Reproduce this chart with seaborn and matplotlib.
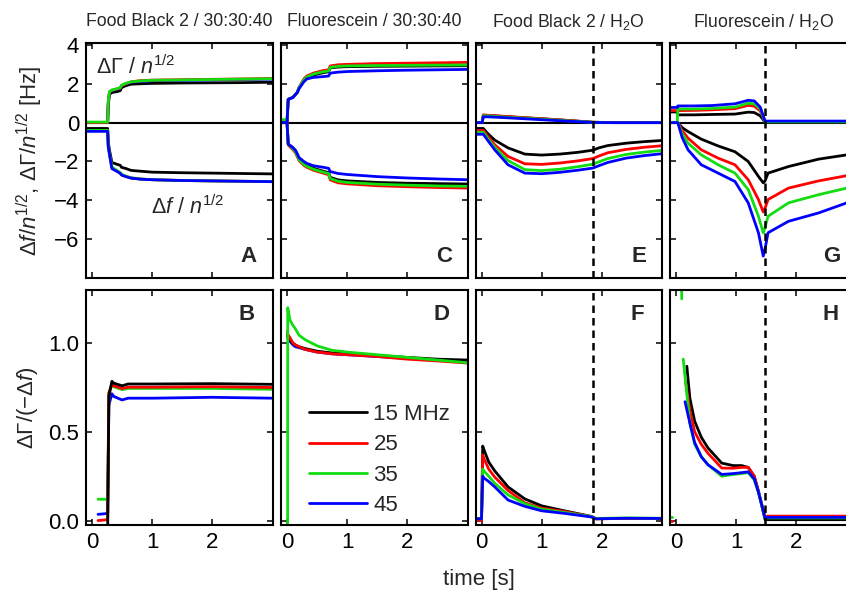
import matplotlib
matplotlib.use("Agg")
import matplotlib.pyplot as plt
import seaborn as sns
from matplotlib.lines import Line2D

# ---------------- data ----------------
freq_labels = ["15 MHz", "25", "35", "45"]
colors = ["#000000", "#ff0000", "#11dd11", "#0000ff"]

titles = ["Food Black 2 / 30:30:40", "Fluorescein / 30:30:40",
          "Food Black 2 / H$_2$O", "Fluorescein / H$_2$O"]
top_letters = ["A", "C", "E", "G"]
bot_letters = ["B", "D", "F", "H"]
top_yticks = [-6, -4, -2, 0, 2, 4]
bot_yticks = [0.0, 0.5, 1.0]
bot_yticklabels = ["0.0", "0.5", "1.0"]
xticks = [0, 1, 2]
rinse_E = 1.85
rinse_G = 1.48

# Panel A (Food Black 2 / 30:30:40)
A_t = [-0.1, 0.26, 0.27, 0.29, 0.33, 0.42, 0.47, 0.49, 0.56, 0.65, 0.8, 1.0, 1.5, 2.0, 2.5, 3.0]
A_gam_15 = [0.0, 0.0, 0.9, 1.45, 1.55, 1.6, 1.65, 1.8, 1.9, 1.98, 2.0, 2.02, 2.04, 2.05, 2.06, 2.08]
A_gam_25 = [0.0, 0.0, 1.05, 1.58, 1.66, 1.74, 1.78, 1.9, 2.0, 2.1, 2.16, 2.19, 2.21, 2.23, 2.25, 2.27]
A_gam_35 = [0.03, 0.03, 1.1, 1.6, 1.68, 1.75, 1.8, 1.92, 2.02, 2.1, 2.15, 2.18, 2.2, 2.22, 2.24, 2.26]
A_gam_45 = [0.0, 0.0, 1.05, 1.55, 1.64, 1.72, 1.77, 1.9, 2.0, 2.08, 2.13, 2.16, 2.18, 2.2, 2.22, 2.24]
A_df_15 = [-0.3, -0.3, -1.0, -1.4, -2.05, -2.15, -2.2, -2.3, -2.36, -2.46, -2.5, -2.55, -2.58, -2.6, -2.62, -2.64]
A_df_25 = [-0.4, -0.4, -1.2, -1.6, -2.3, -2.5, -2.6, -2.68, -2.76, -2.85, -2.9, -2.94, -2.98, -3.0, -3.02, -3.04]
A_df_35 = [-0.4, -0.4, -1.2, -1.6, -2.28, -2.48, -2.58, -2.66, -2.75, -2.84, -2.9, -2.94, -2.98, -3.0, -3.02, -3.03]
A_df_45 = [-0.45, -0.45, -1.25, -1.63, -2.37, -2.52, -2.62, -2.7, -2.78, -2.86, -2.91, -2.94, -2.98, -3.0, -3.02, -3.04]

# Panel B
B_t = [0.1, 0.26, 0.28, 0.33, 0.36, 0.5, 0.6, 1.0, 2.0, 3.0]
B_15 = [-0.06, -0.06, 0.7, 0.785, 0.775, 0.76, 0.77, 0.77, 0.772, 0.768]
B_25 = [0.0, 0.005, 0.72, 0.765, 0.76, 0.745, 0.752, 0.752, 0.755, 0.75]
B_35 = [0.12, 0.12, 0.72, 0.765, 0.755, 0.738, 0.745, 0.745, 0.745, 0.74]
B_45 = [0.035, 0.04, 0.65, 0.715, 0.70, 0.68, 0.69, 0.69, 0.695, 0.69]

# Panel C (Fluorescein / 30:30:40)
C_t = [-0.1, 0.0, 0.02, 0.1, 0.14, 0.17, 0.2, 0.28, 0.33, 0.44, 0.6, 0.69, 0.72, 0.85, 1.0, 1.5, 2.0, 2.5, 3.0]
C_gam_15 = [0.0, 0.0, 1.2, 1.3, 1.45, 1.55, 1.8, 2.2, 2.3, 2.45, 2.57, 2.62, 2.82, 2.86, 2.88, 2.9, 2.91, 2.92, 2.93]
C_gam_25 = [0.0, 0.0, 1.2, 1.3, 1.45, 1.55, 1.8, 2.25, 2.4, 2.55, 2.68, 2.72, 2.92, 2.98, 3.0, 3.04, 3.06, 3.08, 3.1]
C_gam_35 = [0.15, 0.15, 1.2, 1.3, 1.45, 1.55, 1.8, 2.2, 2.35, 2.5, 2.62, 2.66, 2.85, 2.9, 2.92, 2.94, 2.95, 2.96, 2.97]
C_gam_45 = [0.0, 0.0, 1.2, 1.3, 1.45, 1.55, 1.75, 2.1, 2.25, 2.33, 2.37, 2.4, 2.55, 2.6, 2.63, 2.67, 2.7, 2.72, 2.74]
C_df_15 = [0.0, 0.0, -1.1, -1.3, -1.45, -1.65, -1.85, -2.1, -2.2, -2.35, -2.5, -2.57, -2.82, -2.95, -3.0, -3.08, -3.12, -3.14, -3.16]
C_df_25 = [0.0, 0.0, -1.15, -1.4, -1.55, -1.75, -1.95, -2.2, -2.3, -2.45, -2.6, -2.68, -2.95, -3.1, -3.15, -3.25, -3.3, -3.34, -3.37]
C_df_35 = [0.0, 0.0, -1.1, -1.35, -1.5, -1.7, -1.9, -2.15, -2.25, -2.4, -2.55, -2.62, -2.88, -3.02, -3.08, -3.17, -3.22, -3.26, -3.28]
C_df_45 = [0.0, 0.0, -1.1, -1.3, -1.42, -1.6, -1.8, -2.0, -2.1, -2.22, -2.3, -2.35, -2.52, -2.62, -2.67, -2.78, -2.85, -2.9, -2.94]

# Panel D
D_t = [0.01, 0.012, 0.05, 0.1, 0.14, 0.2, 0.3, 0.5, 0.75, 1.0, 1.5, 2.0, 2.5, 3.0]
D_15 = [1.05, 1.04, 1.02, 1.0, 0.99, 0.98, 0.97, 0.955, 0.945, 0.94, 0.93, 0.92, 0.91, 0.905]
D_25 = [1.07, 1.05, 1.03, 1.0, 0.99, 0.98, 0.965, 0.95, 0.94, 0.935, 0.925, 0.91, 0.9, 0.888]
D_35 = [-0.1, 1.2, 1.13, 1.1, 1.08, 1.045, 1.02, 0.985, 0.96, 0.95, 0.935, 0.92, 0.905, 0.89]
D_45 = [1.04, 1.03, 1.01, 0.99, 0.98, 0.975, 0.965, 0.95, 0.94, 0.935, 0.925, 0.915, 0.905, 0.9]

# Panel E (Food Black 2 / H2O)
E_tg = [-0.1, 0.01, 0.03, 0.1, 0.3, 0.6, 1.0, 1.4, 1.85, 2.2, 3.0]
E_gam_15 = [0.0, 0.0, 0.38, 0.37, 0.33, 0.27, 0.2, 0.12, 0.02, 0.0, 0.0]
E_gam_25 = [0.0, 0.0, 0.4, 0.38, 0.34, 0.28, 0.2, 0.12, 0.02, 0.0, 0.0]
E_gam_35 = [0.0, 0.0, 0.36, 0.35, 0.3, 0.25, 0.18, 0.1, 0.02, 0.0, 0.0]
E_gam_45 = [0.0, 0.0, 0.3, 0.3, 0.27, 0.22, 0.15, 0.08, 0.01, 0.0, 0.0]
E_tf = [-0.1, 0.03, 0.1, 0.22, 0.44, 0.72, 1.0, 1.3, 1.6, 1.85, 1.95, 2.1, 2.4, 2.7, 3.0]
E_df_15 = [-0.3, -0.3, -0.55, -0.9, -1.3, -1.62, -1.67, -1.62, -1.53, -1.42, -1.3, -1.18, -1.06, -0.98, -0.92]
E_df_25 = [-0.4, -0.4, -0.7, -1.14, -1.74, -2.12, -2.15, -2.08, -1.97, -1.85, -1.72, -1.55, -1.38, -1.27, -1.19]
E_df_35 = [-0.5, -0.5, -0.8, -1.27, -1.95, -2.42, -2.47, -2.4, -2.27, -2.14, -2.02, -1.85, -1.64, -1.52, -1.43]
E_df_45 = [-0.6, -0.6, -0.9, -1.4, -2.17, -2.6, -2.63, -2.56, -2.45, -2.34, -2.22, -2.05, -1.83, -1.7, -1.6]

# Panel F
F_t = [-0.08, 0.0, 0.02, 0.04, 0.12, 0.22, 0.44, 0.72, 1.0, 1.39, 1.83, 1.9, 2.4, 3.0]
F_15 = [0.01, 0.01, 0.42, 0.4, 0.33, 0.28, 0.19, 0.122, 0.083, 0.054, 0.023, 0.01, 0.012, 0.012]
F_25 = [0.0, 0.0, 0.37, 0.35, 0.29, 0.245, 0.17, 0.10, 0.07, 0.05, 0.022, 0.01, 0.012, 0.012]
F_35 = [0.01, 0.01, 0.29, 0.28, 0.25, 0.21, 0.145, 0.095, 0.064, 0.045, 0.022, 0.012, 0.015, 0.013]
F_45 = [0.01, 0.01, 0.25, 0.24, 0.22, 0.19, 0.116, 0.08, 0.055, 0.04, 0.02, 0.01, 0.013, 0.012]

# Panel G (Fluorescein / H2O)
G_tg = [-0.1, 0.02, 0.03, 0.3, 0.6, 0.98, 1.2, 1.3, 1.4, 1.48, 1.5, 2.0, 3.0]
G_gam_15 = [0.55, 0.55, 0.4, 0.4, 0.42, 0.44, 0.54, 0.52, 0.35, 0.03, 0.03, 0.03, 0.03]
G_gam_25 = [0.62, 0.62, 0.62, 0.63, 0.66, 0.72, 0.89, 0.85, 0.6, 0.05, 0.05, 0.05, 0.05]
G_gam_35 = [0.0, 0.0, 0.7, 0.7, 0.73, 0.8, 1.0, 0.97, 0.7, 0.04, 0.04, 0.04, 0.04]
G_gam_45 = [0.78, 0.78, 0.86, 0.86, 0.88, 0.97, 1.15, 1.12, 0.8, 0.08, 0.08, 0.08, 0.08]
G_tf = [-0.1, 0.03, 0.1, 0.2, 0.42, 0.7, 0.98, 1.2, 1.37, 1.45, 1.48, 1.53, 1.87, 2.37, 2.84, 3.0]
G_df_15 = [0.0, 0.0, -0.25, -0.46, -0.85, -1.2, -1.5, -2.0, -2.77, -3.1, -3.0, -2.6, -2.26, -1.88, -1.66, -1.6]
G_df_25 = [0.0, 0.0, -0.4, -0.8, -1.4, -1.83, -2.17, -2.94, -3.96, -4.6, -4.4, -3.96, -3.37, -3.0, -2.73, -2.66]
G_df_35 = [0.0, 0.0, -0.55, -1.06, -1.66, -2.17, -2.6, -3.45, -4.82, -5.67, -5.4, -4.82, -4.13, -3.71, -3.37, -3.3]
G_df_45 = [0.0, 0.0, -0.75, -1.4, -2.17, -2.6, -3.03, -4.13, -5.67, -6.87, -6.5, -5.67, -5.08, -4.65, -4.13, -4.0]

# Panel H
H_t_common = [0.23, 0.31, 0.42, 0.53, 0.76, 0.95, 1.09, 1.2, 1.3, 1.37, 1.48, 1.52, 2.0, 2.5, 3.0]
H_t0 = [0.18, 0.16, 0.12, 0.15]
H_15 = [0.87, 0.69, 0.56, 0.47, 0.41, 0.324, 0.31, 0.31, 0.30, 0.25, 0.165, 0.005, 0.005, 0.005, 0.005, 0.005]
H_25 = [0.78, 0.62, 0.50, 0.43, 0.38, 0.296, 0.295, 0.30, 0.30, 0.25, 0.165, 0.02, 0.025, 0.025, 0.025, 0.025]
H_35 = [0.91, 0.55, 0.43, 0.36, 0.315, 0.25, 0.26, 0.265, 0.27, 0.23, 0.16, 0.015, 0.015, 0.015, 0.015, 0.015]
H_45 = [0.67, 0.55, 0.44, 0.36, 0.315, 0.26, 0.265, 0.27, 0.275, 0.235, 0.16, 0.015, 0.018, 0.018, 0.018, 0.018]
H_spike_t = [0.09, 0.095]
H_spike_35 = [1.4, 1.25]
H_pre_t = [-0.09, -0.06]
H_pre_25 = [0.0, 0.0]
H_pre_35 = [0.02, 0.02]

# ---------------- style ----------------
sns.set_style("ticks")
plt.rcParams["font.family"] = ["Liberation Sans", "DejaVu Sans"]
plt.rcParams["mathtext.fontset"] = "custom"
plt.rcParams["mathtext.rm"] = "Liberation Sans"
plt.rcParams["mathtext.it"] = "Liberation Sans:italic"
plt.rcParams["mathtext.bf"] = "Liberation Sans:bold"
plt.rcParams["axes.linewidth"] = 1.5
plt.rcParams["axes.edgecolor"] = "black"

LW = 2.0
W, H = 846.0, 594.0
fig = plt.figure(figsize=(W / 100, H / 100), dpi=100)

lefts = [86, 281, 475.5, 670]
pw, ph = 186.5, 235
top_bottom, bot_bottom = 278, 525


def make_ax(left, bottom):
    return fig.add_axes([left / W, 1 - bottom / H, pw / W, ph / H])


def curve(ax, t, y, i):
    sns.lineplot(x=t, y=y, color=colors[i], linewidth=LW, ax=ax,
                 estimator=None, sort=False, legend=False)


top_axes = [make_ax(l, top_bottom) for l in lefts]
bot_axes = [make_ax(l, bot_bottom) for l in lefts]

# top panels: zero lines
for ax in top_axes:
    ax.axhline(0, color="black", linewidth=1.5, zorder=1.5)

# A
axA = top_axes[0]
for i in [0, 3, 1, 2]:
    curve(axA, A_t, [A_gam_15, A_gam_25, A_gam_35, A_gam_45][i], i)
for i in [0, 1, 2, 3]:
    curve(axA, A_t, [A_df_15, A_df_25, A_df_35, A_df_45][i], i)
# C
axC = top_axes[1]
for i in [0, 1, 2, 3]:
    curve(axC, C_t, [C_gam_15, C_gam_25, C_gam_35, C_gam_45][i], i)
    curve(axC, C_t, [C_df_15, C_df_25, C_df_35, C_df_45][i], i)
# E
axE = top_axes[2]
for i in [0, 1, 2, 3]:
    curve(axE, E_tg, [E_gam_15, E_gam_25, E_gam_35, E_gam_45][i], i)
    curve(axE, E_tf, [E_df_15, E_df_25, E_df_35, E_df_45][i], i)
# G
axG = top_axes[3]
for i in [0, 1, 2, 3]:
    curve(axG, G_tg, [G_gam_15, G_gam_25, G_gam_35, G_gam_45][i], i)
    curve(axG, G_tf, [G_df_15, G_df_25, G_df_35, G_df_45][i], i)

# B
axB = bot_axes[0]
for i in [3, 2, 1, 0]:
    curve(axB, B_t, [B_15, B_25, B_35, B_45][i], i)
# D
axD = bot_axes[1]
for i in [3, 0, 1, 2]:
    curve(axD, D_t, [D_15, D_25, D_35, D_45][i], i)
# F
axF = bot_axes[2]
for i in [0, 1, 2, 3]:
    curve(axF, F_t, [F_15, F_25, F_35, F_45][i], i)
# H
axH = bot_axes[3]
curve(axH, H_pre_t, H_pre_25, 1)
curve(axH, H_pre_t, H_pre_35, 2)
curve(axH, H_spike_t, H_spike_35, 2)
for i in [0, 1, 2, 3]:
    t = [H_t0[i]] + H_t_common
    curve(axH, t, [H_15, H_25, H_35, H_45][i], i)

# dashed rinse lines
for ax in [axE, axF]:
    ax.axvline(rinse_E, color="black", linewidth=1.8, linestyle=(0, (3, 2)), zorder=3)
for ax in [axG, axH]:
    ax.axvline(rinse_G, color="black", linewidth=1.8, linestyle=(0, (3, 2)), zorder=3)

# axes formatting
for k, ax in enumerate(top_axes + bot_axes):
    ax.set_xlim(-0.1, 3.0)
    ax.set_xticks(xticks)
    ax.tick_params(direction="in", top=True, right=True, length=4.5, width=1.1,
                   labelsize=16, pad=5, colors="black")
    ax.set_xlabel("")
    ax.set_ylabel("")
    for s in ax.spines.values():
        s.set_visible(True)
        s.set_color("black")

for j, ax in enumerate(top_axes):
    ax.set_ylim(-8.0, 4.1)
    ax.set_yticks(top_yticks)
    ax.tick_params(labelbottom=False)
    if j > 0:
        ax.tick_params(labelleft=False)
    ax.text(0.915, 0.045, top_letters[j], transform=ax.transAxes, ha="right",
            va="bottom", fontsize=16, fontweight="bold")
    cx = (lefts[j] + pw / 2) / W
    fig.text(cx, 1 - 22 / H, titles[j], ha="center", va="center", fontsize=12.7)

for j, ax in enumerate(bot_axes):
    ax.set_ylim(-0.025, 1.3)
    ax.set_yticks(bot_yticks)
    ax.set_yticklabels(bot_yticklabels)
    ax.set_xticklabels([str(x) for x in xticks])
    if j > 0:
        ax.tick_params(labelleft=False)
    ax.text(0.905, 0.94, bot_letters[j], transform=ax.transAxes, ha="right",
            va="top", fontsize=16, fontweight="bold")

# annotations in A
axA.text(0.055, 0.895, r"$\Delta\Gamma$ / $n^{1/2}$", transform=axA.transAxes,
         ha="left", va="center", fontsize=15.5)
axA.text(0.35, 0.30, r"$\Delta f$ / $n^{1/2}$", transform=axA.transAxes,
         ha="left", va="center", fontsize=15.5)

# legend in D
handles = [Line2D([0], [0], color=c, linewidth=LW) for c in colors]
fig.legend(handles, freq_labels, loc="upper left",
           bbox_to_anchor=(309 / W, 1 - 404 / H), frameon=False, fontsize=16,
           handlelength=2.6, handletextpad=0.3, labelspacing=0.42,
           borderpad=0, borderaxespad=0)

# axis labels
fig.text(30 / W, 1 - 160.5 / H, r"$\Delta f/n^{1/2}$, $\Delta\Gamma/n^{1/2}$ [Hz]",
         rotation=90, ha="center", va="center", fontsize=16)
fig.text(27 / W, 1 - 408 / H, r"$\Delta\Gamma/(-\Delta f)$",
         rotation=90, ha="center", va="center", fontsize=16)
fig.text(479 / W, 1 - 580 / H, "time [s]", ha="center", va="center", fontsize=16)

fig.savefig("out.png", dpi=100)
